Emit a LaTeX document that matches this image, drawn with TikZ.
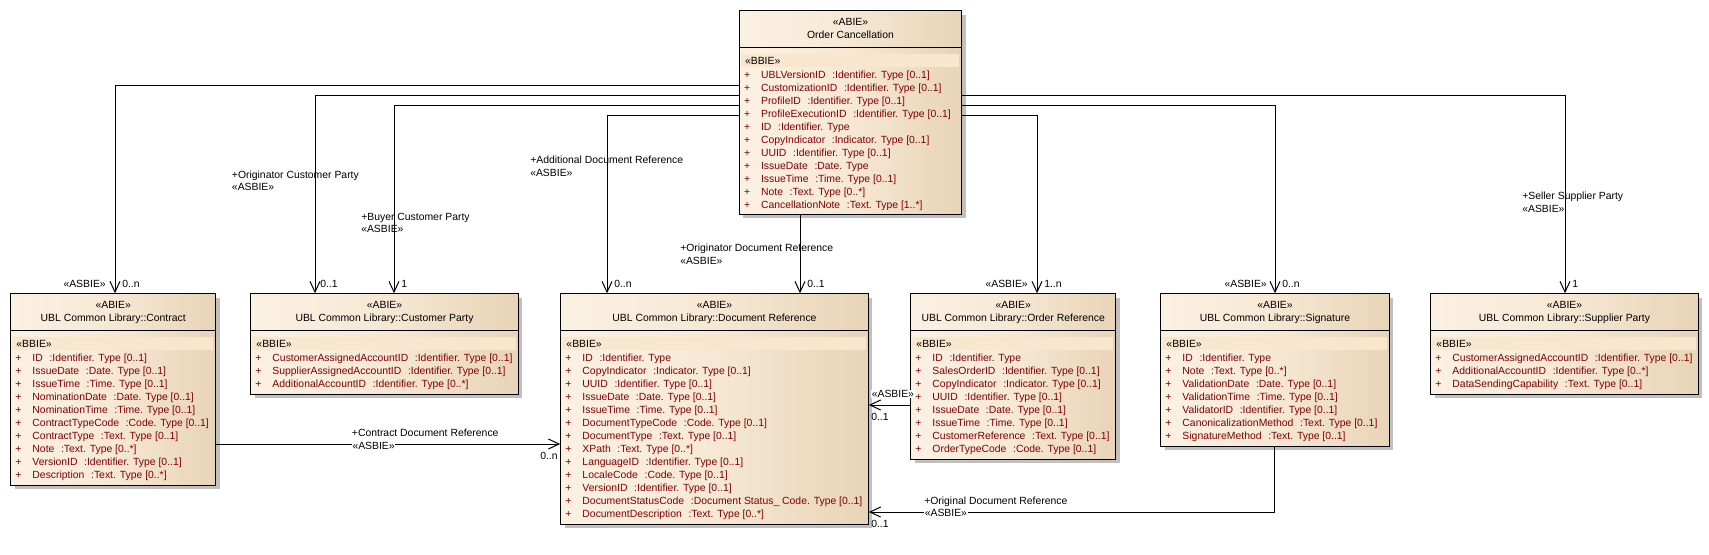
\documentclass[tikz,border=0pt]{standalone}
\usepackage{fontspec}
\newfontfamily\umlfont{Liberation Sans}
\usepackage{xcolor}
\usepackage{tikz}
\usetikzlibrary{positioning,calc,fit,shadows,arrows.meta}
\definecolor{boxleft}{HTML}{FBF1E3}
\definecolor{boxmid}{HTML}{F6E8D4}
\definecolor{boxright}{HTML}{E8D4B7}
\definecolor{bbieband}{HTML}{F8E6CE}
\definecolor{shadowgray}{HTML}{C0C0C0}
\definecolor{attrred}{HTML}{800000}

\begin{document}
\begin{tikzpicture}[
    x=0.75pt, y=-0.75pt,
    umltext/.style={inner sep=0pt, font=\umlfont\fontsize{7.8pt}{9.75pt}\selectfont},
    classbox/.style={
        draw=black,
        line width=0.75pt,
        inner sep=0pt,
        left color=boxleft,
        right color=boxright,
        middle color=boxmid,
        drop shadow={shadow xshift=3pt, shadow yshift=-3pt, fill=shadowgray, opacity=1}
    },
    hdr/.style={umltext, anchor=base, text=black},
    bbie/.style={umltext, anchor=base west, text=black},
    attr/.style={umltext, anchor=base west, text=attrred},
    lbl/.style={umltext, anchor=base west, text=black},
    onl/.style={lbl, fill=white, inner sep=0.4pt},
    conn/.style={line width=0.75pt, draw=black},
    assoc/.style={conn, -{Straight Barb[length=8pt,width=7.5pt]}}
]
    \useasboundingbox (0,0) rectangle (1709,554);

    % Class boxes
    \node[classbox, fit={(739.3,10.7) (961.7,214)}] (oc) {};
    \node[classbox, fit={(10.7,293.7) (215.7,485)}] (contract) {};
    \node[classbox, fit={(250.7,293.7) (518.3,394.3)}] (cparty) {};
    \node[classbox, fit={(560.7,293.7) (868.3,524.3)}] (docref) {};
    \node[classbox, fit={(910.7,293.7) (1115.7,459)}] (oref) {};
    \node[classbox, fit={(1160.7,293.7) (1389.3,446)}] (sig) {};
    \node[classbox, fit={(1430.7,293.7) (1698.3,394.3)}] (sparty) {};

    % Header line, attribute band and stereotypes
    \foreach \c/\t in {oc/Order Cancellation,
        contract/UBL Common Library::Contract,
        cparty/UBL Common Library::Customer Party,
        docref/UBL Common Library::Document Reference,
        oref/UBL Common Library::Order Reference,
        sig/UBL Common Library::Signature,
        sparty/UBL Common Library::Supplier Party} {
        \draw[conn] ($(\c.north west)+(0,37)$) -- ($(\c.north east)+(0,37)$);
        \fill[bbieband] ($(\c.north west)+(2,44)$) rectangle ($(\c.north east)+(-3,57)$);
        \node[hdr] (\c-st) at ($(\c.north)+(0,15.5)$) {«ABIE»};
        \node[hdr] (\c-title) at ($(\c.north)+(0,28.7)$) {\t};
        \node[bbie] (\c-bbie) at ($(\c.north west)+(6,54.3)$) {«BBIE»};
    }

    % Attributes
    \foreach \n/\t [count=\i from 0] in {UBLVersionID/:Identifier. Type [0..1],
        CustomizationID/:Identifier. Type [0..1],
        ProfileID/:Identifier. Type [0..1],
        ProfileExecutionID/:Identifier. Type [0..1],
        ID/:Identifier. Type,
        CopyIndicator/:Indicator. Type [0..1],
        UUID/:Identifier. Type [0..1],
        IssueDate/:Date. Type,
        IssueTime/:Time. Type [0..1],
        Note/:Text. Type [0..*],
        CancellationNote/:Text. Type [1..*]}
        \node[attr] (oc-a\i) at ($(oc.north west)+(5,{68+13*\i})$) {\makebox[12.75pt][l]{+}\n\hspace{5pt}\t};

    \foreach \n/\t [count=\i from 0] in {ID/:Identifier. Type [0..1],
        IssueDate/:Date. Type [0..1],
        IssueTime/:Time. Type [0..1],
        NominationDate/:Date. Type [0..1],
        NominationTime/:Time. Type [0..1],
        ContractTypeCode/:Code. Type [0..1],
        ContractType/:Text. Type [0..1],
        Note/:Text. Type [0..*],
        VersionID/:Identifier. Type [0..1],
        Description/:Text. Type [0..*]}
        \node[attr] (contract-a\i) at ($(contract.north west)+(5,{68.3+13*\i})$) {\makebox[12.75pt][l]{+}\n\hspace{5pt}\t};

    \foreach \n/\t [count=\i from 0] in {CustomerAssignedAccountID/:Identifier. Type [0..1],
        SupplierAssignedAccountID/:Identifier. Type [0..1],
        AdditionalAccountID/:Identifier. Type [0..*]}
        \node[attr] (cparty-a\i) at ($(cparty.north west)+(5,{68.3+13*\i})$) {\makebox[12.75pt][l]{+}\n\hspace{5pt}\t};

    \foreach \n/\t [count=\i from 0] in {ID/:Identifier. Type,
        CopyIndicator/:Indicator. Type [0..1],
        UUID/:Identifier. Type [0..1],
        IssueDate/:Date. Type [0..1],
        IssueTime/:Time. Type [0..1],
        DocumentTypeCode/:Code. Type [0..1],
        DocumentType/:Text. Type [0..1],
        XPath/:Text. Type [0..*],
        LanguageID/:Identifier. Type [0..1],
        LocaleCode/:Code. Type [0..1],
        VersionID/:Identifier. Type [0..1],
        DocumentStatusCode/:Document Status\_ Code. Type [0..1],
        DocumentDescription/:Text. Type [0..*]}
        \node[attr] (docref-a\i) at ($(docref.north west)+(5,{68.3+13*\i})$) {\makebox[12.75pt][l]{+}\n\hspace{5pt}\t};

    \foreach \n/\t [count=\i from 0] in {ID/:Identifier. Type,
        SalesOrderID/:Identifier. Type [0..1],
        CopyIndicator/:Indicator. Type [0..1],
        UUID/:Identifier. Type [0..1],
        IssueDate/:Date. Type [0..1],
        IssueTime/:Time. Type [0..1],
        CustomerReference/:Text. Type [0..1],
        OrderTypeCode/:Code. Type [0..1]}
        \node[attr] (oref-a\i) at ($(oref.north west)+(5,{68.3+13*\i})$) {\makebox[12.75pt][l]{+}\n\hspace{5pt}\t};

    \foreach \n/\t [count=\i from 0] in {ID/:Identifier. Type,
        Note/:Text. Type [0..*],
        ValidationDate/:Date. Type [0..1],
        ValidationTime/:Time. Type [0..1],
        ValidatorID/:Identifier. Type [0..1],
        CanonicalizationMethod/:Text. Type [0..1],
        SignatureMethod/:Text. Type [0..1]}
        \node[attr] (sig-a\i) at ($(sig.north west)+(5,{68.3+13*\i})$) {\makebox[12.75pt][l]{+}\n\hspace{5pt}\t};

    \foreach \n/\t [count=\i from 0] in {CustomerAssignedAccountID/:Identifier. Type [0..1],
        AdditionalAccountID/:Identifier. Type [0..*],
        DataSendingCapability/:Text. Type [0..1]}
        \node[attr] (sparty-a\i) at ($(sparty.north west)+(5,{68.3+13*\i})$) {\makebox[12.75pt][l]{+}\n\hspace{5pt}\t};

    % Associations from Order Cancellation
    \draw[assoc] (oc.west |- 0,85) -| (contract.north -| 115,0);
    \draw[assoc] (oc.west |- 0,95) -| (cparty.north -| 315,0);
    \draw[assoc] (oc.west |- 0,105) -| (cparty.north -| 394,0);
    \draw[assoc] (oc.west |- 0,115) -| (docref.north -| 607,0);
    \draw[assoc] (oc.south -| 800,0) -- (docref.north -| 800,0);
    \draw[assoc] (oc.east |- 0,115) -| (oref.north -| 1037,0);
    \draw[assoc] (oc.east |- 0,105) -| (sig.north -| 1275,0);
    \draw[assoc] (oc.east |- 0,95) -| (sparty.north -| 1565,0);

    % Associations into Document Reference
    \draw[assoc] (contract.east |- 0,444) -- (docref.west |- 0,444);
    \draw[assoc] (oref.west |- 0,405) -- (docref.east |- 0,405);
    \draw[assoc] (sig.south -| 1274,0) |- (docref.east |- 0,512);

    % Role names
    \node[lbl] (r-ocp) at (231.7,178) {+Originator Customer Party};
    \node[lbl] (r-ocp-s) at (231.7,190.7) {«ASBIE»};
    \node[lbl] (r-bcp) at (361,220) {+Buyer Customer Party};
    \node[lbl] (r-bcp-s) at (361,232.7) {«ASBIE»};
    \node[lbl] (r-adr) at (530,163.5) {+Additional Document Reference};
    \node[lbl] (r-adr-s) at (530,176.5) {«ASBIE»};
    \node[lbl] (r-odr) at (680,251.5) {+Originator Document Reference};
    \node[lbl] (r-odr-s) at (680,264.5) {«ASBIE»};
    \node[lbl] (r-ssp) at (1522,199.5) {+Seller Supplier Party};
    \node[lbl] (r-ssp-s) at (1522,212.5) {«ASBIE»};
    \node[lbl] (r-cdr) at (351.7,436.5) {+Contract Document Reference};
    \node[onl] (r-cdr-s) at (351.7,449.3) {«ASBIE»};
    \node[onl] (r-ore-s) at (871,397.5) {«ASBIE»};
    \node[lbl] (r-odoc) at (924,504.5) {+Original Document Reference};
    \node[onl] (r-odoc-s) at (924,516.3) {«ASBIE»};

    % Multiplicities
    \node[lbl, anchor=base east] (m-con-s) at (106,287) {«ASBIE»};
    \node[lbl] (m-con) at (122,287) {0..n};
    \node[lbl] (m-ocp) at (320,287) {0..1};
    \node[lbl] (m-bcp) at (401,287) {1};
    \node[lbl] (m-adr) at (614,287) {0..n};
    \node[lbl] (m-odr) at (807,287) {0..1};
    \node[lbl, anchor=base east] (m-ore-s) at (1028,287) {«ASBIE»};
    \node[lbl] (m-ore) at (1044,287) {1..n};
    \node[lbl, anchor=base east] (m-sig-s) at (1267,287) {«ASBIE»};
    \node[lbl] (m-sig) at (1282,287) {0..n};
    \node[lbl] (m-ssp) at (1572,287) {1};
    \node[lbl] (m-cdr) at (540,459.5) {0..n};
    \node[lbl] (m-ore2) at (871,420.5) {0..1};
    \node[lbl] (m-odoc) at (871,527.5) {0..1};
\end{tikzpicture}
\end{document}
